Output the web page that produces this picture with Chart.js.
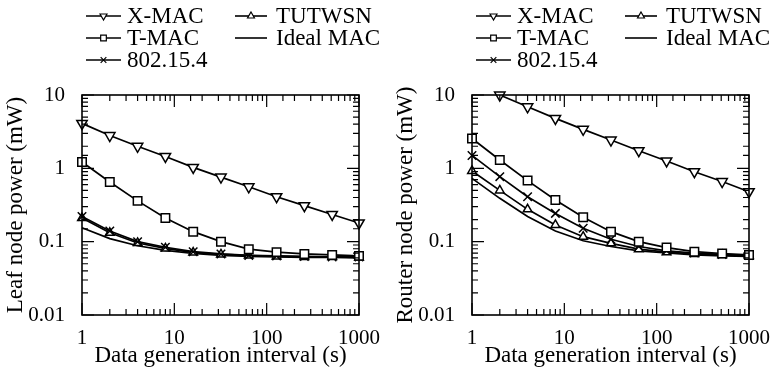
<!DOCTYPE html>
<html lang="en">
<head>
    <meta charset="UTF-8">
    <title>Leaf and router node power</title>
    <script src="https://cdn.jsdelivr.net/npm/chart.js"></script>
    <style>
        body { margin: 0; background: #ffffff; }
        .wrap { position: relative; width: 773px; height: 371px; }
        .panel { position: absolute; top: 0; width: 383px; height: 371px; }
        #leafPanel { left: 0; }
        #routerPanel { left: 390px; }
    </style>
</head>
<body>
    <div class="wrap">
        <div class="panel" id="leafPanel"><canvas id="leafChart" width="383" height="371"></canvas></div>
        <div class="panel" id="routerPanel"><canvas id="routerChart" width="383" height="371"></canvas></div>
    </div>

    <script>
        // data generation interval (s)
        const xValues = [1, 2, 4, 8, 16, 32, 64, 128, 256, 512, 1000];
        const seriesNames = ['X-MAC', 'T-MAC', '802.15.4', 'TUTWSN', 'Ideal MAC'];

        // leaf node power (mW)
        const leafXmac  = [4.1, 2.8, 2.0, 1.45, 1.03, 0.76, 0.56, 0.41, 0.31, 0.235, 0.18];
        const leafTmac  = [1.22, 0.65, 0.36, 0.21, 0.137, 0.1, 0.079, 0.072, 0.068, 0.066, 0.064];
        const leaf802   = [0.22, 0.14, 0.1, 0.084, 0.073, 0.068, 0.065, 0.064, 0.063, 0.062, 0.062];
        const leafTut   = [0.21, 0.132, 0.096, 0.081, 0.071, 0.067, 0.065, 0.063, 0.062, 0.062, 0.061];
        const leafIdeal = [0.155, 0.11, 0.088, 0.076, 0.069, 0.065, 0.063, 0.062, 0.061, 0.061, 0.06];

        // router node power (mW)
        const routerXmac  = [null, 10, 6.9, 4.8, 3.4, 2.43, 1.74, 1.26, 0.9, 0.66, 0.48];
        const routerTmac  = [2.55, 1.3, 0.68, 0.37, 0.215, 0.137, 0.1, 0.083, 0.073, 0.069, 0.066];
        const router802   = [1.5, 0.77, 0.41, 0.243, 0.152, 0.108, 0.086, 0.075, 0.07, 0.067, 0.065];
        const routerTut   = [0.92, 0.5, 0.276, 0.169, 0.117, 0.095, 0.079, 0.072, 0.068, 0.066, 0.064];
        const routerIdeal = [0.73, 0.39, 0.22, 0.14, 0.103, 0.086, 0.075, 0.07, 0.066, 0.064, 0.063];

        const xTickLabels = [1, 10, 100, 1000];
        const yTickLabels = [0.01, 0.1, 1, 10];

        const FONT = "'Liberation Serif', 'Times New Roman', serif";

        const markers = [
            { pointStyle: 'triangle', rotation: 180, radius: 6 },
            { pointStyle: 'rect', rotation: 0, radius: 6 },
            { pointStyle: 'crossRot', rotation: 0, radius: 6 },
            { pointStyle: 'triangle', rotation: 0, radius: 5 },
            { pointStyle: false, rotation: 0, radius: 0 }
        ];

        function isLabelled(value, list) {
            return list.some(t => Math.abs(Math.log10(value) - Math.log10(t)) < 1e-6);
        }

        function makeDatasets(values) {
            return values.map((vals, i) => ({
                label: seriesNames[i],
                data: xValues.map((x, j) => ({ x: x, y: vals[j] })),
                borderColor: '#000',
                borderWidth: 1.7,
                backgroundColor: '#fff',
                pointStyle: markers[i].pointStyle,
                pointRotation: markers[i].rotation,
                pointRadius: markers[i].radius,
                pointBorderWidth: 1.5,
                pointBorderColor: '#000',
                pointBackgroundColor: '#fff',
                tension: 0,
                clip: false,
                spanGaps: false
            }));
        }

        // frame box and inward ticks on all four sides
        const framePlugin = {
            id: 'frame',
            afterDatasetsDraw(chart) {
                const { ctx, chartArea: a, scales } = chart;
                ctx.save();
                ctx.strokeStyle = '#000';
                ctx.lineWidth = 1.6;
                ctx.strokeRect(a.left, a.top, a.right - a.left, a.bottom - a.top);
                ctx.lineWidth = 1.2;
                ctx.beginPath();
                scales.x.ticks.forEach(t => {
                    const px = scales.x.getPixelForValue(t.value);
                    const len = isLabelled(t.value, xTickLabels) ? 12 : 6;
                    ctx.moveTo(px, a.bottom); ctx.lineTo(px, a.bottom - len);
                    ctx.moveTo(px, a.top); ctx.lineTo(px, a.top + len);
                });
                scales.y.ticks.forEach(t => {
                    const py = scales.y.getPixelForValue(t.value);
                    const len = isLabelled(t.value, yTickLabels) ? 12 : 6;
                    ctx.moveTo(a.left, py); ctx.lineTo(a.left + len, py);
                    ctx.moveTo(a.right, py); ctx.lineTo(a.right - len, py);
                });
                ctx.stroke();
                ctx.restore();
            }
        };

        // two-column legend above the plot
        const legendPlugin = {
            id: 'colLegend',
            afterDraw(chart) {
                const ctx = chart.ctx;
                const slots = [
                    { x: 86, y: 16 }, { x: 86, y: 38 }, { x: 86, y: 60 },
                    { x: 235, y: 16 }, { x: 235, y: 38 }
                ];
                ctx.save();
                ctx.font = '23px ' + FONT;
                ctx.textBaseline = 'middle';
                chart.data.datasets.forEach((ds, i) => {
                    const s = slots[i];
                    const w = i < 3 ? 35 : 32;
                    ctx.strokeStyle = '#000';
                    ctx.lineWidth = 1.6;
                    ctx.beginPath();
                    ctx.moveTo(s.x, s.y); ctx.lineTo(s.x + w, s.y);
                    ctx.stroke();
                    if (ds.pointStyle) {
                        ctx.fillStyle = '#fff';
                        ctx.lineWidth = 1.2;
                        Chart.helpers.drawPoint(ctx, {
                            pointStyle: ds.pointStyle,
                            rotation: ds.pointRotation,
                            radius: 4,
                            borderWidth: 1.2
                        }, s.x + w / 2, s.y);
                    }
                    ctx.fillStyle = '#000';
                    ctx.fillText(ds.label, s.x + w + (i < 3 ? 6 : 9), s.y + 1);
                });
                ctx.restore();
            }
        };

        function makeChart(id, values, yTitle) {
            return new Chart(document.getElementById(id), {
                type: 'line',
                data: { datasets: makeDatasets(values) },
                options: {
                    responsive: false,
                    animation: false,
                    layout: { padding: { top: 95, right: 22, bottom: 0, left: 0 } },
                    plugins: { legend: { display: false }, tooltip: { enabled: false } },
                    scales: {
                        x: {
                            type: 'logarithmic',
                            min: 1,
                            max: 1000,
                            grid: { display: false },
                            border: { display: false },
                            afterFit: s => { s.height = 56; },
                            ticks: {
                                autoSkip: false,
                                maxRotation: 0,
                                padding: 3,
                                color: '#000',
                                font: { family: FONT, size: 21 },
                                callback: v => isLabelled(v, xTickLabels) ? String(v) : ''
                            },
                            title: {
                                display: true,
                                text: 'Data generation interval (s)',
                                color: '#000',
                                font: { family: FONT, size: 23 },
                                padding: { top: 0, bottom: 1 }
                            }
                        },
                        y: {
                            type: 'logarithmic',
                            min: 0.01,
                            max: 10,
                            grid: { display: false },
                            border: { display: false },
                            afterFit: s => { s.width = 82; },
                            ticks: {
                                autoSkip: false,
                                padding: 9,
                                color: '#000',
                                font: { family: FONT, size: 21 },
                                callback: v => isLabelled(v, yTickLabels) ? String(v) : ''
                            },
                            title: {
                                display: true,
                                text: yTitle,
                                color: '#000',
                                font: { family: FONT, size: 23 },
                                padding: { top: 2, bottom: 0 }
                            }
                        }
                    }
                },
                plugins: [framePlugin, legendPlugin]
            });
        }

        makeChart('leafChart', [leafXmac, leafTmac, leaf802, leafTut, leafIdeal], 'Leaf node power (mW)');
        makeChart('routerChart', [routerXmac, routerTmac, router802, routerTut, routerIdeal], 'Router node power (mW)');
    </script>
</body>
</html>
